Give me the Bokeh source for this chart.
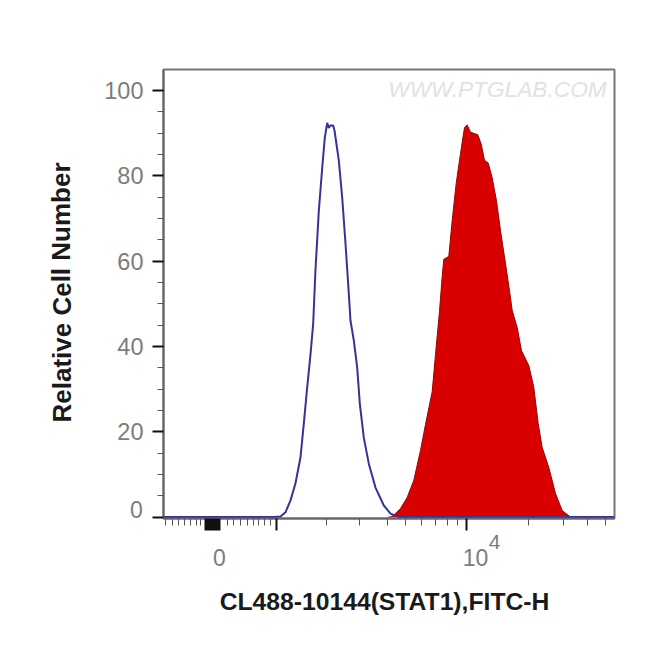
from bokeh.embed import file_html
from bokeh.models import FixedTicker, Label, Range1d
from bokeh.plotting import figure
from bokeh.resources import INLINE

# Display channel (horizontal) and percentage of maximum (vertical)
control_x = [163, 270, 273.3, 280, 285, 290, 295, 300, 303.3, 306.7, 310, 312.7, 315, 318.3, 321.7, 324.3,
             326.7, 328.3, 330, 332.7, 334, 338.3, 341.7, 345, 348.3, 350, 353.3, 356.7, 359.3, 363.3,
             368.3, 375, 383.3, 390, 398, 614]
control_y = [0, 0, 0, 0.1, 1.1, 3.9, 7.9, 14.0, 21.9, 30.4, 38.1, 45.4, 58.0, 71.7, 81.8, 88.9,
             92.4, 91.2, 91.8, 91.8, 90.6, 83.6, 74.9, 64.1, 52.4, 46.0, 41.4, 35.0, 26.6, 18.6,
             12.5, 6.9, 2.7, 0.8, 0, 0]
stained_x = [388, 390, 393.3, 400, 406.7, 413.3, 420, 425, 431.7, 435, 439, 441.7, 443.3, 448.3, 451.7,
             455.7, 460, 464, 466.7, 470, 477.3, 480.7, 484, 487.7, 491.7, 496, 500, 505, 510, 511.7,
             516.7, 521, 528.3, 533.3, 537.7, 541.7, 548.3, 555, 561.7, 570, 575]
stained_y = [0, 0, 0.4, 2.0, 4.6, 8.6, 15.6, 21.7, 29.4, 38.1, 48.2, 56.4, 60.4, 61.1, 69.5,
             78.2, 85.2, 91.3, 91.9, 90.2, 89.6, 87.4, 83.6, 83.0, 79.5, 74.1, 67.1, 59.4, 51.4, 48.4,
             44.4, 39.0, 35.5, 30.4, 21.9, 16.3, 11.6, 5.5, 1.5, 0, 0]

x_major_ticks = [205, 207, 209, 211, 213, 215, 217, 219, 276, 466]
x_minor_ticks = [165, 172, 178, 184, 190, 196, 200, 227, 233, 240, 247, 253, 258, 264, 270,
                 326, 359, 387, 405, 421, 435, 447, 457, 528, 563, 587, 605]
y_major_ticks = [0, 20, 40, 60, 80, 100]
y_minor_ticks = [5, 10, 15, 25, 30, 35, 45, 50, 55, 65, 70, 75, 85, 90, 95]
x_title = "CL488-10144(STAT1),FITC-H"
y_title = "Relative Cell Number"
watermark = "WWW.PTGLAB.COM"

TICK_GREY = "#7c7c7c"
FONT = "Liberation Sans"

p = figure(width=642, height=637, frame_width=451, frame_height=449,
           output_backend="svg", toolbar_location=None,
           x_range=Range1d(163, 614), y_range=Range1d(-0.35, 104.9),
           min_border_left=163, min_border_right=28, min_border_top=69, min_border_bottom=119,
           background_fill_color="white", border_fill_color="white")
p.grid.visible = False
p.outline_line_color = "#777777"
p.outline_line_width = 2

p.varea(stained_x, stained_y, [0] * len(stained_x), fill_color="#d90000")
p.line(stained_x, stained_y, line_color="#a00000", line_width=1)
p.line(control_x, control_y, line_color="#33339a", line_width=2)

p.xaxis.ticker = FixedTicker(ticks=x_major_ticks, minor_ticks=x_minor_ticks)
p.xaxis.major_label_text_color = None
p.xaxis.major_label_text_font_size = "1px"
p.yaxis.ticker = FixedTicker(ticks=y_major_ticks, minor_ticks=y_minor_ticks)
p.yaxis.major_label_overrides = {0: ""}
p.yaxis.major_label_text_font = FONT
p.yaxis.major_label_text_font_size = "23.5px"
p.yaxis.major_label_text_color = TICK_GREY
p.yaxis.major_label_standoff = 9
for ax, major_out, minor_out in ((p.xaxis, 12, 7), (p.yaxis, 11, 6)):
    ax.axis_line_color = "#666666"
    ax.axis_line_width = 2
    ax.major_tick_line_color = "#111111"
    ax.major_tick_line_width = 2
    ax.major_tick_in = 0
    ax.major_tick_out = major_out
    ax.minor_tick_line_color = "#555555"
    ax.minor_tick_line_width = 1
    ax.minor_tick_in = 0
    ax.minor_tick_out = minor_out


def text(x, y, s, size, color=TICK_GREY, style="normal", align="center", angle=0.0, place="below"):
    label = Label(x=x, y=y, x_units="canvas", y_units="canvas", text=s, text_font=FONT,
                  text_font_size=f"{size}px", text_color=color, text_font_style=style,
                  text_align=align, text_baseline="middle", angle=angle)
    if place == "center":
        p.add_layout(label)
    else:
        p.add_layout(label, place)


text(136, 509, "0", 23)
text(219, 557, "0", 23)
text(475, 557, "10", 23)
text(494, 541, "4", 21)
text(384, 601, x_title, 24.7, color="#1a1a1a", style="bold")
text(61, 292, y_title, 26, color="#1a1a1a", style="bold", angle=1.5708)
text(497, 88, watermark, 22.7, color="#e2e2e2", style="italic", place="center")

open("out.html", "w").write(file_html(p, INLINE))
